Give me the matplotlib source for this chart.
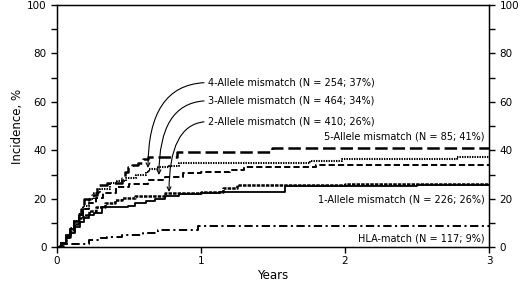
# HLA不一致度別の累積発症率 (cumulative incidence by allele mismatch)
import numpy as np
import matplotlib
matplotlib.use("Agg")
import matplotlib.pyplot as plt

plt.rcParams["font.family"] = ["DejaVu Sans"]
plt.rcParams["lines.scale_dashes"] = False

# ---- data (years, incidence %) ----
t_5 = [0, 0.03, 0.06, 0.09, 0.12, 0.15, 0.17, 0.19, 0.245, 0.28, 0.35, 0.45, 0.47, 0.49,
       0.52, 0.56, 0.60, 0.63, 0.68, 0.83, 1.49, 3.0]
v_5 = [0, 2, 5, 8, 11, 14, 16, 20, 21.6, 25.8, 26.5, 28.6, 31, 33,
       34, 35, 36.3, 37.3, 37.5, 39.5, 41.2, 41.2]

t_4 = [0, 0.03, 0.06, 0.09, 0.12, 0.15, 0.18, 0.22, 0.26, 0.30, 0.37, 0.42, 0.48, 0.55,
       0.62, 0.64, 0.70, 0.78, 0.85, 1.76, 1.98, 2.78, 3.0]
v_4 = [0, 2, 5, 8, 11, 14, 17, 20, 22.5, 24, 26.6, 27.5, 28.5, 30,
       31.3, 32.5, 33, 33.8, 34.7, 35.8, 36.5, 37.2, 37.2]

t_3 = [0, 0.03, 0.06, 0.09, 0.12, 0.15, 0.18, 0.22, 0.27, 0.32, 0.41, 0.50, 0.63, 0.75,
       0.875, 1.0, 1.2, 1.3, 1.8, 3.0]
v_3 = [0, 2, 4.5, 7.5, 10.5, 13.5, 16, 18.5, 20.5, 22.5, 25, 26.2, 27.8, 29,
       30.6, 31, 32, 33, 34.2, 34.4]

t_2 = [0, 0.03, 0.06, 0.09, 0.12, 0.15, 0.18, 0.22, 0.27, 0.33, 0.40, 0.45, 0.54, 0.75,
       1.0, 1.15, 1.25, 2.0, 3.0]
v_2 = [0, 2, 4.5, 7, 9.5, 12, 13.5, 15, 16.5, 18.2, 19.5, 20.3, 21.2, 22.3,
       22.8, 24.4, 25.6, 26, 26]

t_1 = [0, 0.03, 0.06, 0.09, 0.125, 0.16, 0.19, 0.22, 0.26, 0.31, 0.49, 0.54, 0.62, 0.68,
       0.75, 0.85, 1.0, 1.13, 1.58, 2.5, 3.0]
v_1 = [0, 1.8, 4, 6, 8.6, 10.5, 12, 13.4, 14.2, 16.8, 17.2, 18.2, 19, 20.2,
       21.4, 22, 22.5, 23, 25.2, 25.8, 25.8]

t_h = [0, 0.02, 0.05, 0.20, 0.22, 0.30, 0.35, 0.45, 0.60, 0.70, 0.98, 3.0]
v_h = [0, 0.6, 1.4, 1.4, 3.0, 3.9, 4.5, 5.0, 5.8, 7.2, 8.9, 8.9]

labels = ["5-Allele mismatch (N = 85; 41%)", "4-Allele mismatch (N = 254; 37%)",
          "3-Allele mismatch (N = 464; 34%)", "2-Allele mismatch (N = 410; 26%)",
          "1-Allele mismatch (N = 226; 26%)", "HLA-match (N = 117; 9%)"]

fig = plt.figure(figsize=(5.2, 2.85), dpi=100)
ax = fig.add_axes([0.1096, 0.1316, 0.8308, 0.8509])

ax.plot(t_5, v_5, drawstyle="steps-post", color="black", lw=1.8, dashes=(9, 3.5))
ax.plot(t_4, v_4, drawstyle="steps-post", color="black", lw=1.5, dashes=(1, 0.8))
ax.plot(t_3, v_3, drawstyle="steps-post", color="black", lw=1.4, dashes=(4.5, 2.2))
ax.plot(t_2, v_2, drawstyle="steps-post", color="black", lw=1.8, dashes=(2.5, 0.8))
ax.plot(t_1, v_1, drawstyle="steps-post", color="black", lw=1.3)
ax.plot(t_h, v_h, drawstyle="steps-post", color="black", lw=1.4, dashes=(6, 2.5, 1.5, 2.5))

# 軸の設定
ax.set_xlim(0, 3)
ax.set_ylim(0, 100)
ax.set_xticks([0, 1, 2, 3])
ax.set_yticks(np.arange(0, 101, 20))
ax.set_yticks(np.arange(10, 100, 20), minor=True)
ax.tick_params(labelsize=7.5, length=4, width=1, direction="out")
ax.tick_params(which="minor", length=4, width=1)
ax.tick_params(axis="x", pad=2)
for s in ax.spines.values():
    s.set_linewidth(1)
ax.set_xlabel("Years", fontsize=8.5, labelpad=2)
ax.set_ylabel("Incidence, %", fontsize=8.5, labelpad=2)

ax2 = ax.twinx()
ax2.set_ylim(0, 100)
ax2.set_yticks(np.arange(0, 101, 20))
ax2.set_yticks(np.arange(10, 100, 20), minor=True)
ax2.tick_params(labelsize=7.5, length=4, width=1, direction="out")
ax2.tick_params(which="minor", length=4, width=1)

# ラベルと矢印
fs = 7
arrow = dict(arrowstyle="->", color="black", lw=0.8, relpos=(0, 0.5),
             connectionstyle="angle3,angleA=0,angleB=90", shrinkA=1, shrinkB=0)
ax.annotate(labels[1], xy=(0.632, 32.8), xytext=(1.05, 68), fontsize=fs,
            ha="left", va="center", arrowprops=arrow)
ax.annotate(labels[2], xy=(0.708, 29.9), xytext=(1.05, 60.5), fontsize=fs,
            ha="left", va="center", arrowprops=arrow)
ax.annotate(labels[3], xy=(0.778, 22.9), xytext=(1.05, 51.9), fontsize=fs,
            ha="left", va="center", arrowprops=arrow)
ax.text(2.97, 45.7, labels[0], fontsize=fs, ha="right", va="center")
ax.text(2.97, 19.6, labels[4], fontsize=fs, ha="right", va="center")
ax.text(2.97, 3.8, labels[5], fontsize=fs, ha="right", va="center")

fig.savefig("out.png", dpi=100)
